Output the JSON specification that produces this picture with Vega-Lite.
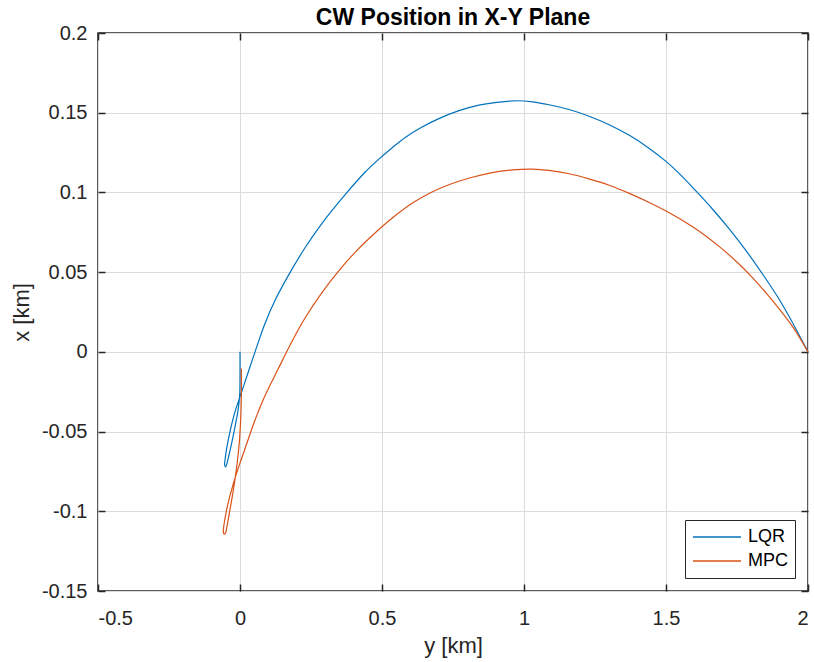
{
  "$schema": "https://vega.github.io/schema/vega-lite/v6.json",
  "width": 710,
  "height": 558,
  "autosize": "none",
  "padding": {"left": 98, "top": 33, "right": 6, "bottom": 71},
  "background": "white",
  "title": {"text": "CW Position in X-Y Plane", "fontSize": 23, "fontWeight": "bold", "color": "#000000", "font": "Liberation Sans", "offset": -7, "anchor": "middle"},
  "config": {
    "font": "Liberation Sans",
    "locale": {"number": {"decimal": ".", "thousands": ",", "grouping": [3], "currency": ["$", ""], "minus": "-"}},
    "view": {"stroke": "#262626", "strokeWidth": 1.5},
    "axis": {
      "labelFont": "Liberation Sans", "labelFontSize": 20, "labelColor": "#262626",
      "titleFont": "Liberation Sans", "titleFontSize": 22, "titleColor": "#262626", "titleFontWeight": "normal",
      "tickColor": "#262626", "tickWidth": 1.5, "domain": false,
      "gridColor": "#dcdcdc", "gridWidth": 1
    }
  },
  "data": {"values": [
    {"s": "LQR", "t": 0, "y": 2.0, "x": 0.0},
    {"s": "LQR", "t": 1, "y": 1.947, "x": 0.0178},
    {"s": "LQR", "t": 2, "y": 1.900, "x": 0.0325},
    {"s": "LQR", "t": 3, "y": 1.841, "x": 0.0485},
    {"s": "LQR", "t": 4, "y": 1.783, "x": 0.0632},
    {"s": "LQR", "t": 5, "y": 1.724, "x": 0.0768},
    {"s": "LQR", "t": 6, "y": 1.665, "x": 0.0893},
    {"s": "LQR", "t": 7, "y": 1.606, "x": 0.1008},
    {"s": "LQR", "t": 8, "y": 1.547, "x": 0.1118},
    {"s": "LQR", "t": 9, "y": 1.500, "x": 0.1195},
    {"s": "LQR", "t": 10, "y": 1.441, "x": 0.1276},
    {"s": "LQR", "t": 11, "y": 1.371, "x": 0.1358},
    {"s": "LQR", "t": 12, "y": 1.300, "x": 0.1425},
    {"s": "LQR", "t": 13, "y": 1.229, "x": 0.1478},
    {"s": "LQR", "t": 14, "y": 1.159, "x": 0.152},
    {"s": "LQR", "t": 15, "y": 1.088, "x": 0.155},
    {"s": "LQR", "t": 16, "y": 1.030, "x": 0.1568},
    {"s": "LQR", "t": 17, "y": 0.980, "x": 0.1575},
    {"s": "LQR", "t": 18, "y": 0.912, "x": 0.1567},
    {"s": "LQR", "t": 19, "y": 0.841, "x": 0.1548},
    {"s": "LQR", "t": 20, "y": 0.771, "x": 0.1513},
    {"s": "LQR", "t": 21, "y": 0.700, "x": 0.1463},
    {"s": "LQR", "t": 22, "y": 0.641, "x": 0.141},
    {"s": "LQR", "t": 23, "y": 0.582, "x": 0.1345},
    {"s": "LQR", "t": 24, "y": 0.535, "x": 0.1279},
    {"s": "LQR", "t": 25, "y": 0.488, "x": 0.1207},
    {"s": "LQR", "t": 26, "y": 0.441, "x": 0.1128},
    {"s": "LQR", "t": 27, "y": 0.371, "x": 0.0988},
    {"s": "LQR", "t": 28, "y": 0.288, "x": 0.0805},
    {"s": "LQR", "t": 29, "y": 0.229, "x": 0.0653},
    {"s": "LQR", "t": 30, "y": 0.1705, "x": 0.048},
    {"s": "LQR", "t": 31, "y": 0.1235, "x": 0.0324},
    {"s": "LQR", "t": 32, "y": 0.088, "x": 0.0178},
    {"s": "LQR", "t": 33, "y": 0.0589, "x": 0.0031},
    {"s": "LQR", "t": 34, "y": 0.0295, "x": -0.0125},
    {"s": "LQR", "t": 35, "y": 0.006, "x": -0.025},
    {"s": "LQR", "t": 36, "y": -0.0175, "x": -0.0375},
    {"s": "LQR", "t": 37, "y": -0.0352, "x": -0.05},
    {"s": "LQR", "t": 38, "y": -0.0469, "x": -0.0605},
    {"s": "LQR", "t": 39, "y": -0.0528, "x": -0.0678},
    {"s": "LQR", "t": 40, "y": -0.054, "x": -0.0709},
    {"s": "LQR", "t": 41, "y": -0.0505, "x": -0.0722},
    {"s": "LQR", "t": 42, "y": -0.0458, "x": -0.0699},
    {"s": "LQR", "t": 43, "y": -0.0387, "x": -0.0646},
    {"s": "LQR", "t": 44, "y": -0.0281, "x": -0.0563},
    {"s": "LQR", "t": 45, "y": -0.0152, "x": -0.0448},
    {"s": "LQR", "t": 46, "y": -0.0058, "x": -0.0354},
    {"s": "LQR", "t": 47, "y": -0.0011, "x": -0.0271},
    {"s": "LQR", "t": 48, "y": 0.0, "x": -0.0167},
    {"s": "LQR", "t": 49, "y": 0.0, "x": 0.0},
    {"s": "MPC", "t": 0, "y": 2.0, "x": 0.0},
    {"s": "MPC", "t": 1, "y": 1.947, "x": 0.0155},
    {"s": "MPC", "t": 2, "y": 1.900, "x": 0.0266},
    {"s": "MPC", "t": 3, "y": 1.853, "x": 0.0368},
    {"s": "MPC", "t": 4, "y": 1.806, "x": 0.0462},
    {"s": "MPC", "t": 5, "y": 1.759, "x": 0.0548},
    {"s": "MPC", "t": 6, "y": 1.688, "x": 0.066},
    {"s": "MPC", "t": 7, "y": 1.618, "x": 0.0755},
    {"s": "MPC", "t": 8, "y": 1.547, "x": 0.0836},
    {"s": "MPC", "t": 9, "y": 1.500, "x": 0.0884},
    {"s": "MPC", "t": 10, "y": 1.441, "x": 0.0937},
    {"s": "MPC", "t": 11, "y": 1.371, "x": 0.0994},
    {"s": "MPC", "t": 12, "y": 1.300, "x": 0.1045},
    {"s": "MPC", "t": 13, "y": 1.229, "x": 0.1085},
    {"s": "MPC", "t": 14, "y": 1.159, "x": 0.1117},
    {"s": "MPC", "t": 15, "y": 1.088, "x": 0.1138},
    {"s": "MPC", "t": 16, "y": 1.030, "x": 0.1146},
    {"s": "MPC", "t": 17, "y": 0.959, "x": 0.1141},
    {"s": "MPC", "t": 18, "y": 0.888, "x": 0.1124},
    {"s": "MPC", "t": 19, "y": 0.818, "x": 0.1095},
    {"s": "MPC", "t": 20, "y": 0.747, "x": 0.1056},
    {"s": "MPC", "t": 21, "y": 0.676, "x": 0.1003},
    {"s": "MPC", "t": 22, "y": 0.606, "x": 0.0932},
    {"s": "MPC", "t": 23, "y": 0.547, "x": 0.0855},
    {"s": "MPC", "t": 24, "y": 0.488, "x": 0.0766},
    {"s": "MPC", "t": 25, "y": 0.406, "x": 0.0626},
    {"s": "MPC", "t": 26, "y": 0.347, "x": 0.0506},
    {"s": "MPC", "t": 27, "y": 0.288, "x": 0.037},
    {"s": "MPC", "t": 28, "y": 0.229, "x": 0.0212},
    {"s": "MPC", "t": 29, "y": 0.182, "x": 0.0062},
    {"s": "MPC", "t": 30, "y": 0.135, "x": -0.0105},
    {"s": "MPC", "t": 31, "y": 0.088, "x": -0.0275},
    {"s": "MPC", "t": 32, "y": 0.0589, "x": -0.04},
    {"s": "MPC", "t": 33, "y": 0.0354, "x": -0.0515},
    {"s": "MPC", "t": 34, "y": 0.0142, "x": -0.0625},
    {"s": "MPC", "t": 35, "y": -0.0022, "x": -0.0709},
    {"s": "MPC", "t": 36, "y": -0.0211, "x": -0.0813},
    {"s": "MPC", "t": 37, "y": -0.0375, "x": -0.0918},
    {"s": "MPC", "t": 38, "y": -0.0493, "x": -0.1011},
    {"s": "MPC", "t": 39, "y": -0.0564, "x": -0.1084},
    {"s": "MPC", "t": 40, "y": -0.0587, "x": -0.1126},
    {"s": "MPC", "t": 41, "y": -0.0564, "x": -0.1143},
    {"s": "MPC", "t": 42, "y": -0.0516, "x": -0.1139},
    {"s": "MPC", "t": 43, "y": -0.0458, "x": -0.1095},
    {"s": "MPC", "t": 44, "y": -0.0375, "x": -0.1011},
    {"s": "MPC", "t": 45, "y": -0.0281, "x": -0.0918},
    {"s": "MPC", "t": 46, "y": -0.0187, "x": -0.0813},
    {"s": "MPC", "t": 47, "y": -0.0093, "x": -0.0688},
    {"s": "MPC", "t": 48, "y": -0.0022, "x": -0.0563},
    {"s": "MPC", "t": 49, "y": 0.0025, "x": -0.0417},
    {"s": "MPC", "t": 50, "y": 0.0048, "x": -0.0271},
    {"s": "MPC", "t": 51, "y": 0.0048, "x": -0.0104}
  ]},
  "layer": [
    {
      "mark": {"type": "line", "strokeWidth": 1.2, "interpolate": "catmull-rom"},
      "encoding": {
        "x": {"field": "y", "type": "quantitative",
              "scale": {"domain": [-0.5, 2], "nice": false, "zero": false},
              "axis": {"title": "y [km]", "values": [-0.5, 0, 0.5, 1, 1.5, 2], "format": "~g", "grid": true, "ticks": false, "labelPadding": 17, "titlePadding": 7}},
        "y": {"field": "x", "type": "quantitative",
              "scale": {"domain": [-0.15, 0.2], "nice": false, "zero": false},
              "axis": {"title": "x [km]", "values": [-0.15, -0.1, -0.05, 0, 0.05, 0.1, 0.15, 0.2], "format": "~g", "grid": true, "ticks": false, "labelPadding": 11, "titlePadding": 8}},
        "color": {"field": "s", "type": "nominal",
                  "scale": {"domain": ["LQR", "MPC"], "range": ["#0072BD", "#D95319"]},
                  "legend": {"title": null, "orient": "bottom-right", "offset": 13, "fillColor": "white", "strokeColor": "#262626", "padding": 7,
                             "symbolType": "stroke", "symbolSize": 2304, "symbolStrokeWidth": 1.5, "labelFontSize": 18, "labelColor": "#000000", "labelFont": "Liberation Sans", "labelOffset": 6, "clipHeight": 20, "rowPadding": 4}},
        "order": {"field": "t", "type": "quantitative"}
      }
    },
    {
      "mark": {"type": "point", "opacity": 0},
      "encoding": {
        "x": {"field": "y", "type": "quantitative",
              "axis": {"orient": "top", "title": null, "labels": false, "grid": false, "domain": false, "ticks": true, "values": [-0.5, 0, 0.5, 1, 1.5, 2], "tickSize": 7, "offset": -7}},
        "y": {"field": "x", "type": "quantitative",
              "axis": {"orient": "right", "title": null, "labels": false, "grid": false, "domain": false, "ticks": true, "values": [-0.15, -0.1, -0.05, 0, 0.05, 0.1, 0.15, 0.2], "tickSize": 7, "offset": -7}}
      }
    },
    {
      "mark": {"type": "point", "opacity": 0},
      "encoding": {
        "x": {"field": "y", "type": "quantitative",
              "axis": {"orient": "bottom", "title": null, "labels": false, "grid": false, "domain": false, "ticks": true, "values": [-0.5, 0, 0.5, 1, 1.5, 2], "tickSize": 7, "offset": -7}},
        "y": {"field": "x", "type": "quantitative",
              "axis": {"orient": "left", "title": null, "labels": false, "grid": false, "domain": false, "ticks": true, "values": [-0.15, -0.1, -0.05, 0, 0.05, 0.1, 0.15, 0.2], "tickSize": 7, "offset": -7}}
      }
    }
  ],
  "resolve": {"axis": {"x": "independent", "y": "independent"}}
}
